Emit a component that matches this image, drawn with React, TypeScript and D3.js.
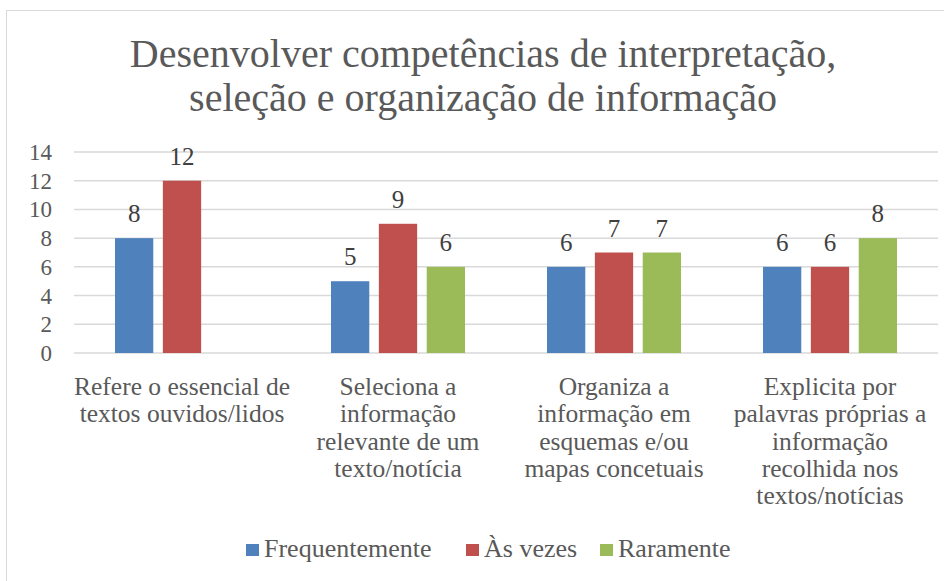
import React, { useRef, useEffect } from "react";
import * as d3 from "d3";

const categoryLines = [
  ["Refere o essencial de", "textos ouvidos/lidos"],
  ["Seleciona a", "informação", "relevante de um", "texto/notícia"],
  ["Organiza a", "informação em", "esquemas e/ou", "mapas concetuais"],
  ["Explicita por", "palavras próprias a", "informação", "recolhida nos", "textos/notícias"],
];
const categories = categoryLines.map((l) => l.join(" "));
const seriesNames = ["Frequentemente", "Às vezes", "Raramente"];
const frequentemente = [8, 5, 6, 6];
const asVezes = [12, 9, 7, 6];
const raramente = [null, 6, 7, 8];
const yTicks = [0, 2, 4, 6, 8, 10, 12, 14];
const colors = ["#4F81BD", "#C0504D", "#9BBB59"];

const FONT = "'Liberation Serif', serif";
const TEXT = "#595959";

export default function App() {
  const ref = useRef<SVGSVGElement>(null);

  useEffect(() => {
    document.body.style.margin = "0";
    const svg = d3.select(ref.current);
    svg.selectAll("*").remove();

    const width = 944;
    const margin = { left: 74, right: 6 };

    // frame
    svg.append("rect")
      .attr("x", 6.5).attr("y", 10.5)
      .attr("width", 960).attr("height", 620)
      .attr("fill", "#fff").attr("stroke", "#D9D9D9").attr("stroke-width", 1);

    // title
    const title = svg.append("text")
      .attr("text-anchor", "middle")
      .attr("font-family", FONT).attr("font-size", 40).attr("fill", TEXT);
    title.append("tspan").attr("x", 483).attr("y", 67).text("Desenvolver competências de interpretação,");
    title.append("tspan").attr("x", 483).attr("y", 111).text("seleção e organização de informação");

    const x0 = d3.scaleBand().domain(categories).range([margin.left, width - margin.right]);
    const x1 = d3.scaleBand().domain(seriesNames).range([-67, 67]).paddingInner(0.2);
    const y = d3.scaleLinear().domain([0, 14]).range([353, 152]);

    // gridlines
    svg.append("g").selectAll("line").data(yTicks).enter().append("line")
      .attr("x1", margin.left).attr("x2", width - margin.right)
      .attr("y1", (d) => y(d)).attr("y2", (d) => y(d))
      .attr("stroke", "#D9D9D9").attr("stroke-width", 1.5);

    // y labels
    svg.append("g").selectAll("text").data(yTicks).enter().append("text")
      .attr("x", 52).attr("y", (d) => y(d) + 8)
      .attr("text-anchor", "end")
      .attr("font-family", FONT).attr("font-size", 23).attr("fill", TEXT)
      .text((d) => d);

    const series = [frequentemente, asVezes, raramente];
    series.forEach((vals, si) => {
      const g = svg.append("g");
      const pts = vals.map((v, i) => ({ v, c: categories[i] })).filter((d) => d.v != null);
      g.selectAll("rect").data(pts).enter().append("rect")
        .attr("x", (d) => x0(d.c)! + x0.bandwidth() / 2 + x1(seriesNames[si])!)
        .attr("y", (d) => y(d.v as number))
        .attr("width", x1.bandwidth())
        .attr("height", (d) => y(0) - y(d.v as number))
        .attr("fill", colors[si]);
      g.selectAll("text").data(pts).enter().append("text")
        .attr("x", (d) => x0(d.c)! + x0.bandwidth() / 2 + x1(seriesNames[si])! + x1.bandwidth() / 2)
        .attr("y", (d) => y(d.v as number) - 16)
        .attr("text-anchor", "middle")
        .attr("font-family", FONT).attr("font-size", 25).attr("fill", "#404040")
        .text((d) => d.v as number);
    });

    // category labels
    categoryLines.forEach((lines, i) => {
      const t = svg.append("text")
        .attr("text-anchor", "middle")
        .attr("font-family", FONT).attr("font-size", 25.5).attr("fill", TEXT);
      lines.forEach((line, li) => {
        t.append("tspan")
          .attr("x", x0(categories[i])! + x0.bandwidth() / 2)
          .attr("y", 395 + li * 27.3)
          .text(line);
      });
    });

    // legend
    const legendX = [246, 466, 600];
    seriesNames.forEach((name, i) => {
      svg.append("rect")
        .attr("x", legendX[i]).attr("y", 544)
        .attr("width", 13).attr("height", 12)
        .attr("fill", colors[i]);
      svg.append("text")
        .attr("x", legendX[i] + 18).attr("y", 557)
        .attr("font-family", FONT).attr("font-size", 26).attr("fill", TEXT)
        .text(name);
    });
  }, []);

  return (
    <div>
      <svg ref={ref} width={944} height={581} style={{ display: "block" }}></svg>
    </div>
  );
}
